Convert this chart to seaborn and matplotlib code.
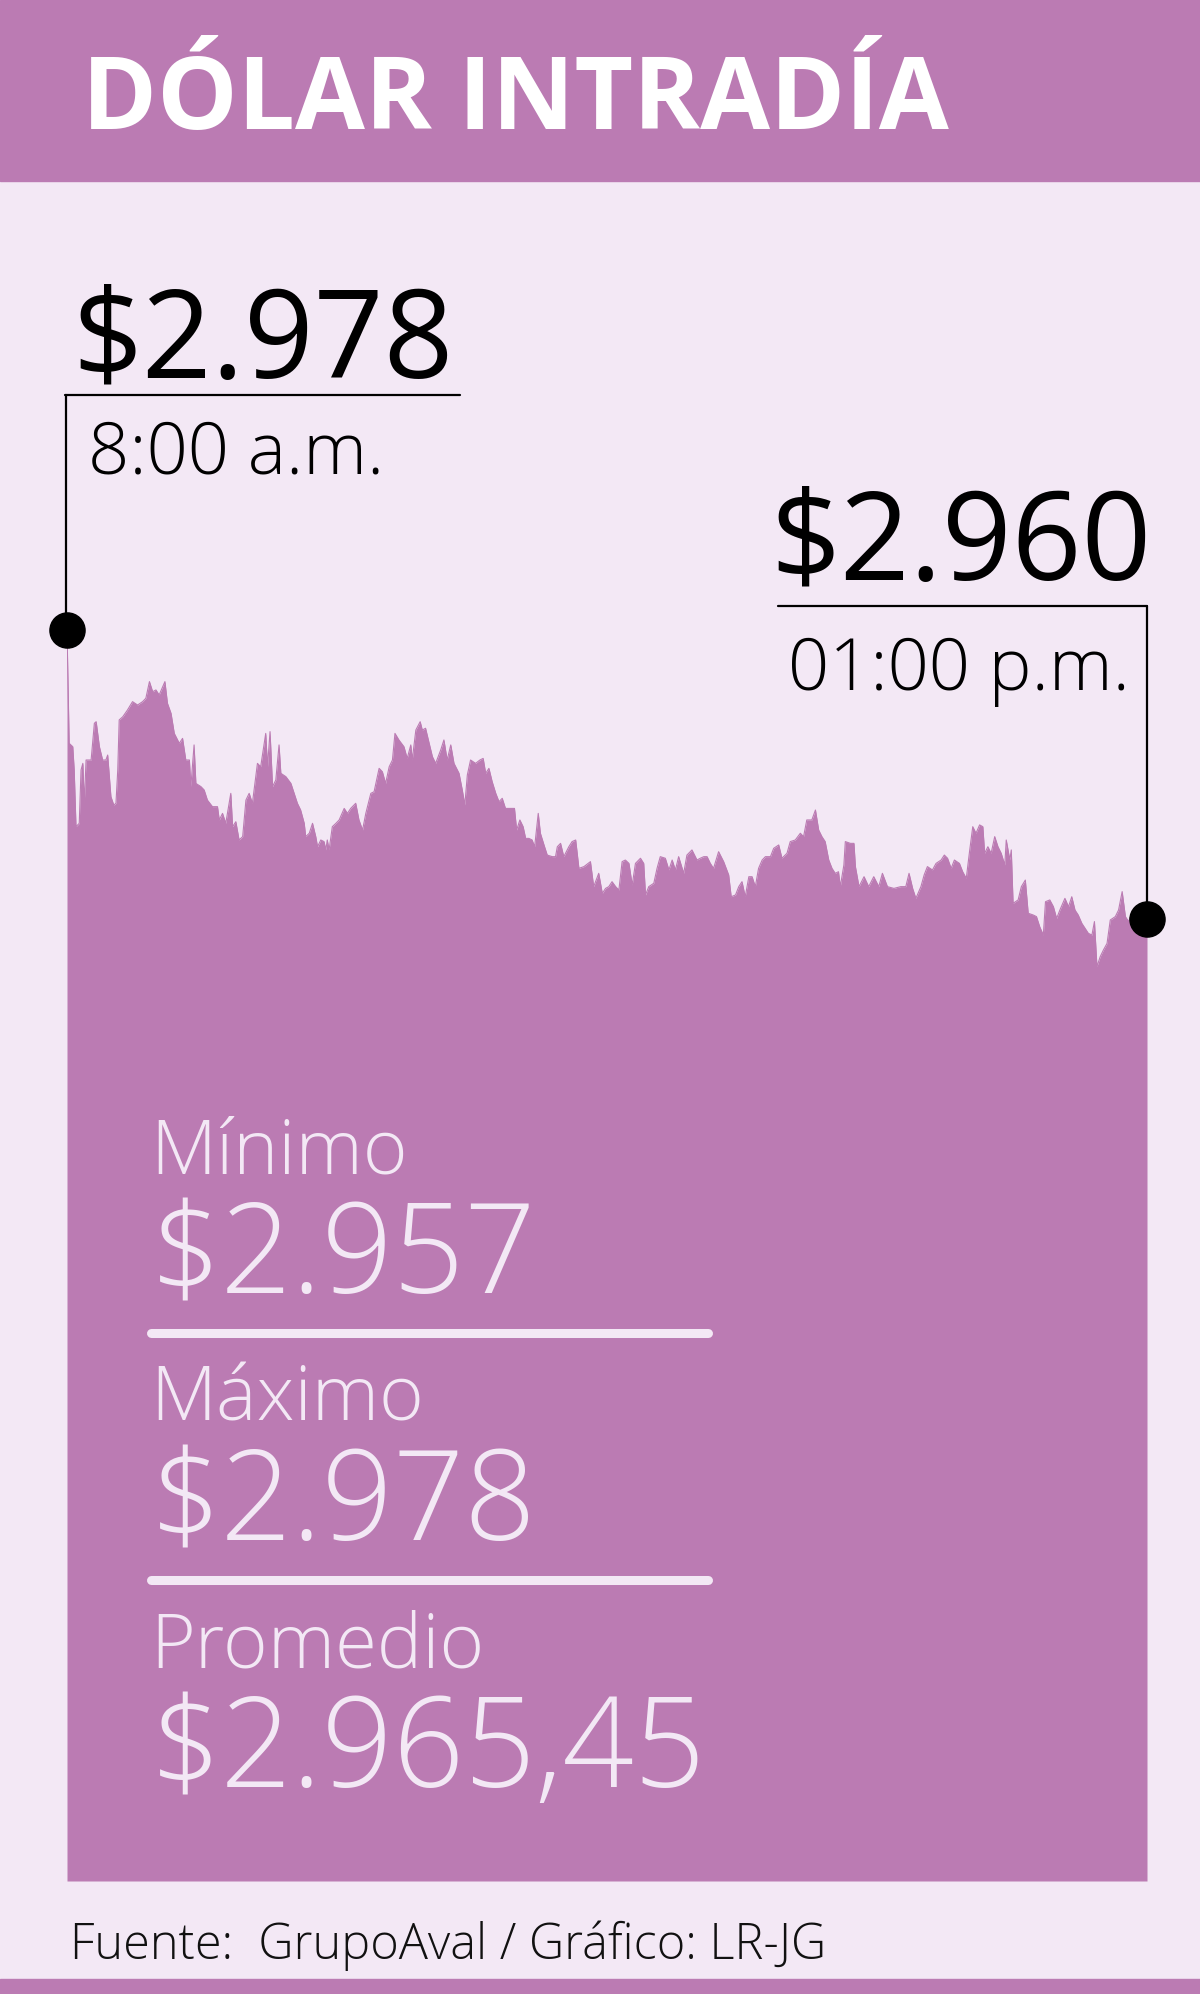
import matplotlib
matplotlib.use("Agg")
import matplotlib.pyplot as plt
from matplotlib.patches import Rectangle
from matplotlib.lines import Line2D
import seaborn as sns

# Datos: minutos desde las 8:00 a.m. y precio del dólar
minutos = [
    0.0, 0.6, 1.6, 2.0, 2.5, 3.4, 3.9, 4.4, 4.8, 5.3, 6.7, 7.6, 8.1, 9.0, 9.9, 10.8, 11.3, 12.2, 13.0, 13.6,
    14.1, 14.5, 15.5, 16.8, 18.2, 19.6, 21.0, 21.9, 22.9, 23.8, 24.7, 25.6, 26.6, 27.2, 27.9, 28.9, 29.8, 31.2, 32.1, 33.0,
    34.0, 34.4, 35.3, 35.8, 37.2, 38.1, 39.0, 40.4, 41.8, 42.3, 43.2, 44.1, 45.5, 46.0, 46.9, 47.8, 48.8, 49.7, 50.6, 51.5,
    52.9, 53.8, 55.2, 55.7, 56.4, 57.1, 58.0, 58.9, 59.4, 60.8, 62.2, 63.1, 64.0, 64.9, 65.9, 66.3, 67.3, 68.2, 69.1, 69.6,
    70.5, 71.4, 71.9, 72.3, 72.8, 73.7, 74.7, 75.6, 77.0, 77.9, 78.8, 79.7, 80.2, 81.1, 82.1, 83.0, 84.4, 85.3, 86.7, 87.6,
    88.5, 89.5, 90.4, 91.1, 92.2, 93.6, 94.5, 95.5, 95.9, 96.9, 98.1, 98.7, 99.6, 100.6, 101.5, 102.4, 103.8, 104.7, 105.6, 106.6,
    107.5, 108.9, 109.8, 110.5, 111.2, 112.1, 113.5, 114.7, 115.6, 116.3, 117.2, 118.1, 119.1, 120.0, 120.9, 121.8, 123.2, 124.3, 124.9, 125.8,
    126.7, 127.4, 128.3, 129.2, 129.9, 130.9, 131.5, 132.5, 133.4, 134.8, 135.7, 136.2, 137.1, 138.0, 139.4, 140.3, 141.3, 142.2, 143.6, 145.4,
    146.3, 147.7, 148.7, 149.6, 150.5, 151.4, 152.4, 153.3, 154.2, 155.1, 156.1, 157.0, 157.9, 159.3, 160.2, 160.7, 161.6, 163.0, 163.9, 164.8,
    166.2, 167.2, 168.1, 169.0, 169.9, 171.3, 172.2, 173.6, 175.0, 175.9, 176.9, 177.8, 178.7, 179.6, 181.0, 182.4, 183.8, 184.5, 185.7, 186.6,
    187.5, 188.4, 189.4, 190.3, 191.2, 192.1, 193.1, 194.0, 195.4, 196.3, 197.7, 198.6, 200.0, 200.9, 202.3, 203.7, 204.6, 205.5, 206.9, 207.9,
    208.8, 209.7, 210.6, 211.6, 212.5, 213.4, 214.3, 214.8, 215.8, 216.2, 217.6, 218.6, 219.0, 220.0, 221.4, 222.7, 224.1, 225.5, 226.5, 227.9,
    229.7, 231.6, 233.0, 233.9, 234.9, 235.8, 237.2, 238.1, 239.0, 240.4, 241.4, 242.8, 243.7, 244.6, 245.6, 246.5, 247.9, 248.8, 249.8, 250.7,
    251.6, 252.5, 253.5, 254.4, 254.9, 255.8, 256.7, 257.7, 258.6, 259.5, 260.5, 260.9, 261.9, 262.3, 262.8, 264.2, 265.1, 266.2, 267.0, 268.4,
    269.3, 270.2, 271.2, 271.8, 273.0, 274.0, 274.9, 275.8, 277.2, 278.2, 279.1, 280.0, 280.9, 281.9, 282.8, 283.7, 284.7, 285.4, 286.1, 287.0,
    287.9, 288.9, 289.8, 291.2, 292.1, 293.1, 294.0, 294.9, 295.8, 297.2, 298.6, 300.0,
]
precios = [
    2978.00, 2970.93, 2970.72, 2969.27, 2965.73, 2965.94, 2969.27, 2969.68, 2967.19, 2969.89, 2969.89, 2972.18, 2972.28, 2970.72, 2969.89, 2969.89, 2970.20, 2967.60, 2967.08, 2967.19,
    2969.27, 2972.39, 2972.59, 2973.01, 2973.53, 2973.32, 2973.53, 2973.74, 2974.78, 2974.15, 2974.26, 2973.95, 2974.47, 2974.78, 2973.43, 2972.80, 2971.55, 2970.93, 2971.24, 2969.89,
    2969.89, 2968.23, 2970.83, 2968.43, 2968.23, 2968.02, 2967.39, 2966.98, 2966.98, 2966.15, 2966.56, 2965.94, 2967.81, 2965.73, 2966.04, 2964.90, 2965.11, 2967.39, 2967.81, 2967.19,
    2969.68, 2969.47, 2971.55, 2969.47, 2971.66, 2968.23, 2968.64, 2970.83, 2969.06, 2968.85, 2968.43, 2967.81, 2967.19, 2966.77, 2965.94, 2965.11, 2965.32, 2965.94, 2965.11, 2964.48,
    2964.90, 2964.80, 2964.28, 2964.90, 2964.28, 2965.73, 2965.94, 2966.15, 2966.87, 2966.56, 2966.87, 2967.08, 2967.19, 2966.15, 2965.52, 2966.56, 2967.81, 2967.91, 2969.37, 2969.16,
    2968.43, 2969.47, 2969.89, 2971.55, 2971.14, 2970.72, 2969.99, 2970.83, 2969.89, 2971.76, 2972.28, 2971.76, 2971.87, 2970.93, 2970.10, 2969.68, 2970.51, 2971.14, 2969.89, 2970.83,
    2969.68, 2969.06, 2968.02, 2967.08, 2968.95, 2969.89, 2969.68, 2969.89, 2969.99, 2969.06, 2969.37, 2968.54, 2967.81, 2967.29, 2967.50, 2966.87, 2966.87, 2966.87, 2965.52, 2966.15,
    2965.73, 2965.00, 2965.00, 2964.90, 2964.48, 2966.56, 2965.32, 2964.59, 2963.96, 2963.86, 2963.86, 2964.48, 2964.69, 2963.86, 2964.48, 2964.80, 2964.90, 2963.13, 2963.24, 2963.55,
    2961.99, 2962.82, 2961.57, 2961.88, 2961.99, 2962.30, 2961.99, 2961.78, 2963.55, 2963.65, 2963.44, 2962.09, 2963.44, 2963.76, 2963.44, 2961.47, 2961.99, 2962.20, 2963.13, 2963.86,
    2963.76, 2963.03, 2963.65, 2963.03, 2963.86, 2962.82, 2963.96, 2964.28, 2963.65, 2963.76, 2963.86, 2963.86, 2963.44, 2963.13, 2964.17, 2963.55, 2962.72, 2961.36, 2961.47, 2961.99,
    2962.30, 2961.36, 2962.61, 2962.61, 2961.99, 2963.13, 2963.65, 2963.86, 2963.86, 2964.38, 2964.59, 2963.76, 2964.07, 2964.80, 2964.90, 2965.32, 2965.11, 2966.15, 2966.15, 2966.77,
    2965.52, 2965.11, 2964.80, 2963.65, 2963.13, 2962.82, 2962.92, 2961.99, 2963.34, 2964.80, 2964.69, 2964.69, 2963.24, 2961.99, 2962.61, 2961.99, 2962.61, 2961.99, 2962.82, 2961.99,
    2961.88, 2961.99, 2961.99, 2962.82, 2961.88, 2961.26, 2961.99, 2962.72, 2963.24, 2963.03, 2963.44, 2963.65, 2963.96, 2963.76, 2963.13, 2963.65, 2963.44, 2962.92, 2962.51, 2964.17,
    2965.73, 2965.32, 2965.84, 2965.73, 2964.07, 2964.48, 2964.07, 2965.11, 2964.48, 2964.07, 2963.34, 2964.90, 2963.65, 2964.28, 2960.95, 2961.16, 2961.99, 2962.40, 2960.33, 2960.22,
    2960.12, 2959.49, 2958.97, 2961.05, 2961.16, 2960.74, 2960.01, 2960.53, 2961.26, 2960.74, 2961.36, 2960.53, 2960.22, 2959.70, 2959.39, 2959.08, 2958.97, 2959.81, 2957.00, 2957.62,
    2958.04, 2958.45, 2959.91, 2960.12, 2960.53, 2961.68, 2960.12, 2959.81, 2960.33, 2959.91, 2959.81, 2960.00,
]
assert len(minutos) == len(precios)

titulo = "DÓLAR INTRADÍA"
apertura, hora_apertura = "$2.978", "8:00 a.m."
cierre, hora_cierre = "$2.960", "01:00 p.m."
resumen_etiquetas = ["Mínimo", "Máximo", "Promedio"]
resumen_valores = ["$2.957", "$2.978", "$2.965,45"]
fuente = "Fuente:  GrupoAval / Gráfico: LR-JG"

MORADO = "#bb7bb3"
CLARO = "#f3e8f5"
W, H = 1200, 1994

sns.set_style("white")
plt.rcParams["font.family"] = ["Open Sans", "DejaVu Sans"]


def fx(px):
    return px / W


def fy(py):
    return 1 - py / H


fig = plt.figure(figsize=(W / 100, H / 100), dpi=100, facecolor=CLARO)

# franjas de color
fig.patches.append(Rectangle((0, fy(181)), 1, 181 / H, transform=fig.transFigure, color=MORADO, zorder=0))
fig.patches.append(Rectangle((0, 0), 1, (H - 1979) / H, transform=fig.transFigure, color=MORADO, zorder=0))

# area del gráfico (px 67..1147, 181..1881)
ax = fig.add_axes([fx(67), fy(1881), fx(1147) - fx(67), (1881 - 181) / H])
ax.set_facecolor("none")
px_por_peso = 16.03
y_min = 2978 - (1881 - 630) / px_por_peso
y_max = 2978 + (630 - 181) / px_por_peso
ax.fill_between(minutos, precios, y_min, color=MORADO, linewidth=0, zorder=1)
sns.lineplot(x=minutos, y=precios, ax=ax, color=MORADO, linewidth=0.8, sort=False, estimator=None, zorder=2)
ax.set_xlim(0, 300)
ax.set_ylim(y_min, y_max)
ax.axis("off")

# puntos de apertura y cierre
ax.scatter([minutos[0], minutos[-1]], [precios[0], precios[-1]], s=640, color="black", zorder=5, clip_on=False)

# conectores
dot_y = lambda v: fy(630 + (2978 - v) * px_por_peso)
fig.lines.append(Line2D([fx(65), fx(460)], [fy(395), fy(395)], transform=fig.transFigure, color="black", lw=1.6))
fig.lines.append(Line2D([fx(66), fx(66)], [fy(395), dot_y(precios[0])], transform=fig.transFigure, color="black", lw=1.6))
fig.lines.append(Line2D([fx(778), fx(1147)], [fy(606), fy(606)], transform=fig.transFigure, color="black", lw=1.6))
fig.lines.append(Line2D([fx(1147), fx(1147)], [fy(606), dot_y(precios[-1])], transform=fig.transFigure, color="black", lw=1.6))

# textos
fig.text(fx(82), fy(129), titulo, color="white", fontsize=73, fontweight="bold", va="baseline", ha="left")
fig.text(fx(72), fy(378), apertura, color="black", fontsize=88, va="baseline", ha="left")
fig.text(fx(88), fy(473), hora_apertura, color="black", fontsize=52, fontweight="light", va="baseline", ha="left")
fig.text(fx(1152), fy(580), cierre, color="black", fontsize=88, va="baseline", ha="right")
fig.text(fx(1130), fy(690), hora_cierre, color="black", fontsize=52, fontweight="light", va="baseline", ha="right")

for i, (etq, val) in enumerate(zip(resumen_etiquetas, resumen_valores)):
    off = i * 247
    fig.text(fx(150), fy(1173 + off), etq, color=CLARO, fontsize=55, fontweight="light", va="baseline", ha="left")
    fig.text(fx(150), fy(1293 + off), val, color=CLARO, fontsize=90, fontweight="light", va="baseline", ha="left")
    if i < 2:
        fig.lines.append(Line2D([fx(151), fx(708)], [fy(1333 + off), fy(1333 + off)],
                                transform=fig.transFigure, color=CLARO, lw=6.5))

fig.text(fx(70), fy(1959), fuente, color="#111111", fontsize=35, fontweight="light", va="baseline", ha="left")

fig.savefig("out.png", dpi=100, facecolor=CLARO)
